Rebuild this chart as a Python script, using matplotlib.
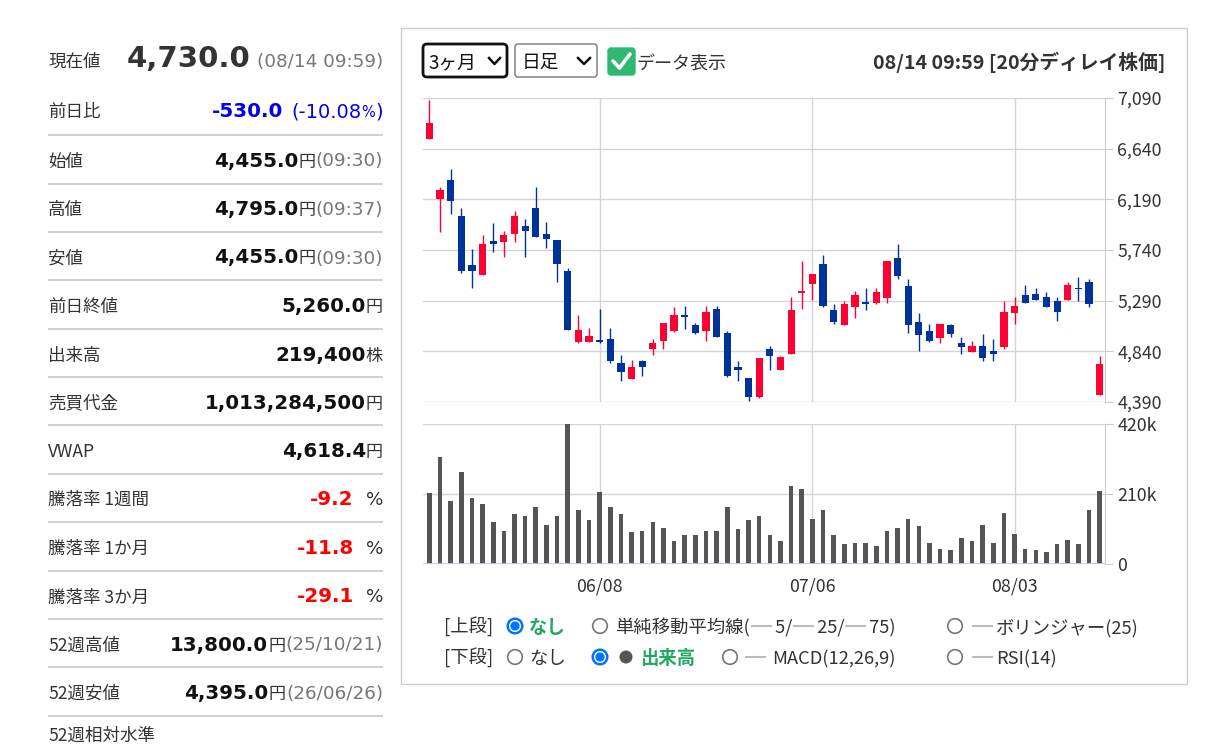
import matplotlib
matplotlib.use('Agg')
import matplotlib.pyplot as plt
from matplotlib.patches import Rectangle, FancyBboxPatch, Circle
from matplotlib.lines import Line2D

plt.rcParams['font.family'] = ['Noto Sans CJK JP', 'DejaVu Sans']

# ---------------- data ----------------
opens  = [6725, 6195, 6365, 6045, 5605, 5515, 5820, 5815, 5885, 5955,
          6110, 5885, 5830, 5550, 4925, 4925, 4945, 4950, 4740, 4595,
          4755, 4860, 4930, 5020, 5155, 5075, 5020, 5220, 5005, 4700,
          4605, 4430, 4860, 4670, 4820, 5355, 5435, 5615, 5205, 5075,
          5230, 5270, 5270, 5310, 5670, 5420, 5100, 5020, 4955, 5070,
          4910, 4835, 4885, 4845, 4875, 5180, 5340, 5350, 5325, 5285,
          5295, 5405, 5455, 4455]
highs  = [7075, 6300, 6460, 6110, 5750, 5875, 5980, 5910, 6085, 6015,
          6300, 5990, 5830, 5580, 5165, 5045, 5215, 5045, 4810, 4765,
          4765, 4950, 5095, 5235, 5245, 5095, 5245, 5245, 5025, 4755,
          4605, 4785, 4885, 4800, 5325, 5645, 5525, 5695, 5260, 5285,
          5375, 5405, 5405, 5645, 5790, 5485, 5180, 5085, 5085, 5085,
          4965, 4935, 4990, 4950, 5285, 5325, 5430, 5405, 5365, 5325,
          5455, 5500, 5485, 4795]
lows   = [6725, 5900, 6060, 5540, 5405, 5515, 5725, 5680, 5815, 5680,
          5855, 5760, 5455, 5030, 4910, 4925, 4910, 4740, 4580, 4595,
          4620, 4810, 4860, 5010, 5035, 4995, 4930, 4965, 4615, 4580,
          4395, 4425, 4675, 4670, 4820, 5220, 5300, 5230, 5085, 5075,
          5140, 5205, 5260, 5270, 5485, 5005, 4845, 4925, 4910, 4970,
          4820, 4835, 4750, 4750, 4860, 5085, 5270, 5295, 5230, 5110,
          5295, 5285, 5230, 4455]
closes = [6870, 6270, 6175, 5550, 5550, 5790, 5795, 5870, 6045, 5910,
          5855, 5835, 5615, 5030, 5030, 4980, 4925, 4750, 4660, 4700,
          4700, 4910, 5095, 5165, 5145, 5005, 5185, 4970, 4620, 4675,
          4430, 4780, 4795, 4790, 5205, 5375, 5525, 5245, 5100, 5260,
          5340, 5260, 5365, 5645, 5510, 5070, 4985, 4935, 5085, 4995,
          4875, 4885, 4780, 4820, 5190, 5245, 5270, 5295, 5230, 5190,
          5430, 5390, 5260, 4730]
volumes = [212500, 320000, 190500, 276000, 198500, 180500, 126500, 100000,
           149500, 144500, 171500, 117500, 144500, 420000, 162500, 131500,
           216500, 171500, 149500, 96000, 100000, 126500, 108500, 69000,
           87000, 87000, 100000, 100000, 171500, 104500, 131500, 144500,
           87000, 69000, 234500, 225500, 135500, 162500, 87000, 60000,
           64000, 64000, 55000, 100000, 108500, 135500, 113500, 64000,
           46000, 42000, 78000, 69000, 117500, 64000, 153500, 91000,
           46000, 42000, 37000, 60000, 73000, 60000, 162500, 219400]

xtick_pos = [16, 36, 55]
xtick_labels = ['06/08', '07/06', '08/03']
price_ticks = [4390, 4840, 5290, 5740, 6190, 6640, 7090]
vol_ticks = [0, 210000, 420000]
vol_tick_labels = ['0', '210k', '420k']

info_labels = ['現在値', '前日比', '始値', '高値', '安値', '前日終値', '出来高',
               '売買代金', 'VWAP', '騰落率 1週間', '騰落率 1か月', '騰落率 3か月',
               '52週高値', '52週安値', '52週相対水準']
current_price = '4,730.0'
current_time = '(08/14 09:59)'
change_value = '-530.0'
change_pct = '-10.08'
price_rows = [('4,455.0', '円', '(09:30)'), ('4,795.0', '円', '(09:37)'),
              ('4,455.0', '円', '(09:30)'), ('5,260.0', '円', None),
              ('219,400', '株', None), ('1,013,284,500', '円', None),
              ('4,618.4', '円', None)]
rate_rows = ['-9.2', '-11.8', '-29.1']
week52_rows = [('13,800.0', '円', '(25/10/21)'), ('4,395.0', '円', '(26/06/26)')]

# ---------------- figure ----------------
W, H = 1206, 745
fig = plt.figure(figsize=(W / 100, H / 100), dpi=100)
ov = fig.add_axes([0, 0, 1, 1])
ov.set_xlim(0, W)
ov.set_ylim(H, 0)
ov.axis('off')
renderer = fig.canvas.get_renderer()

RED = '#ff0033'
BLUE = '#003399'
GRID = '#d4d4d4'
TXT = '#333333'
GRAY = '#777777'
GREEN = '#22a862'
RADIO = '#0075ff'
NUMF = ['DejaVu Sans']


def chain_right(xr, y, pieces):
    x = xr
    for p in reversed(pieces):
        if isinstance(p, (int, float)):
            x -= p
            continue
        s, kw = p
        t = ov.text(x, y, s, ha='right', va='baseline', **kw)
        x -= t.get_window_extent(renderer).width
    return x


def chain_left(xl, y, pieces, dash_y=None):
    x = xl
    for p in pieces:
        if isinstance(p, (int, float)):
            x += p
            continue
        s, kw = p
        if s == '__dash__':
            ov.add_line(Line2D([x, x + 19], [dash_y, dash_y], color='#bbbbbb', lw=1.5))
            x += 19
            continue
        t = ov.text(x, y, s, ha='left', va='baseline', **kw)
        x += t.get_window_extent(renderer).width
    return x


# ---------------- left info panel ----------------
sep_y = [135, 183.5, 232, 280, 329, 377, 425, 474, 522, 571, 619, 667, 716]
ov.hlines(sep_y, 48, 383, color='#c8c8c8', lw=1.2)
baselines = [67, 117, 166.5, 215, 263.5, 312, 360.5, 408.5, 457, 505, 554,
             602.5, 650.5, 699, 741]
LBL = dict(fontsize=12.6, color=TXT)
for lab, by in zip(info_labels, baselines):
    ov.text(48, by, lab, ha='left', va='baseline', **LBL)

VAL = dict(fontsize=14.3, color='#111111', fontweight='bold', family=NUMF)
UNIT = dict(fontsize=12.3, color=TXT)
PAR = dict(fontsize=13.2, color=GRAY, family=NUMF)

chain_right(383, baselines[0], [
    (current_price, dict(fontsize=21, color=TXT, fontweight='bold', family=NUMF)), 6,
    (current_time, PAR)])
chain_right(383, baselines[1], [
    (change_value, dict(fontsize=14.3, color='#0000ee', fontweight='bold', family=NUMF)), 8,
    ('(' + change_pct, dict(fontsize=14, color='#0000ee', family=NUMF)),
    ('%', dict(fontsize=10.5, color='#0000ee', family=NUMF)),
    (')', dict(fontsize=14, color='#0000ee', family=NUMF))])
for (v, u, p), by in zip(price_rows, baselines[2:9]):
    pieces = [(v, VAL), (u, UNIT)]
    if p:
        pieces.append((p, PAR))
    chain_right(383, by, pieces)
for v, by in zip(rate_rows, baselines[9:12]):
    chain_right(383, by, [(v, dict(fontsize=14.3, color='#ff0000', fontweight='bold', family=NUMF)), 12,
                          ('%', dict(fontsize=13.2, color=TXT, family=NUMF))])
for (v, u, p), by in zip(week52_rows, baselines[12:14]):
    chain_right(383, by, [(v, VAL), (u, UNIT), (p, PAR)])

# ---------------- chart panel frame & header ----------------
ov.add_patch(Rectangle((401, 28), 786, 656, fill=False, ec='#cccccc', lw=1))
ov.add_patch(FancyBboxPatch((423, 44), 84, 33, boxstyle='round,pad=0,rounding_size=4',
                            fc='white', ec='#111111', lw=2))
ov.text(428, 68, '3ヶ月', ha='left', va='baseline', fontsize=13.5, color='#111111')
ov.add_line(Line2D([489, 494.5, 500], [58, 64, 58], color='#111111', lw=1.8))
ov.add_patch(FancyBboxPatch((515, 44), 82, 33, boxstyle='round,pad=0,rounding_size=3',
                            fc='white', ec='#767676', lw=1))
ov.text(522, 68, '日足', ha='left', va='baseline', fontsize=13.5, color='#111111')
ov.add_line(Line2D([578, 584, 590], [58, 64, 58], color='#111111', lw=1.8))
ov.add_patch(FancyBboxPatch((608, 48), 27, 27, boxstyle='round,pad=0,rounding_size=3',
                            fc='#2fb874', ec='#2fb874', lw=1))
ov.add_line(Line2D([613, 619.5, 630], [61, 68, 54], color='white', lw=2.6,
                   solid_capstyle='round', solid_joinstyle='round'))
ov.text(636, 68, 'データ表示', ha='left', va='baseline', fontsize=13, color=TXT)
ov.text(1165, 69, '08/14 09:59 [20分ディレイ株価]', ha='right', va='baseline',
        fontsize=14.2, color=TXT, fontweight='bold')

# ---------------- price axes ----------------
def fx(x):
    return x / W


def fy(y):
    return 1 - y / H


axp = fig.add_axes([fx(423), fy(402), fx(1105) - fx(423), fy(98) - fy(402)])
axv = fig.add_axes([fx(423), fy(564), fx(1105) - fx(423), fy(424) - fy(564)])

idx = list(range(len(opens)))
cols = [RED if c >= o else BLUE for o, c in zip(opens, closes)]
bottoms = [min(o, c) for o, c in zip(opens, closes)]
heights = [max(abs(c - o), 14) for o, c in zip(opens, closes)]
axp.vlines(idx, lows, highs, colors=cols, lw=1.0, zorder=3)
axp.bar(idx, heights, bottom=bottoms, width=0.68, color=cols, lw=0, zorder=4)

axv.bar(idx, volumes, width=0.43, color='#555555', lw=0, zorder=3)
axv.axhline(0, color='#c3cbe6', lw=2, zorder=4)

for ax in (axp, axv):
    ax.set_facecolor('none')
    ax.set_xlim(-0.6, len(opens) - 0.5)
    ax.set_xticks(xtick_pos)
    ax.grid(True, color=GRID, lw=1.0, zorder=0)
    for s in ('top', 'left', 'bottom'):
        ax.spines[s].set_visible(False)
    ax.spines['right'].set_color('#cccccc')
    ax.yaxis.tick_right()
    ax.tick_params(axis='y', length=5.8, color='#cccccc', pad=3, labelsize=12.8,
                   labelcolor=TXT)
    ax.set_axisbelow(True)

axp.set_ylim(price_ticks[0], price_ticks[-1])
axp.set_yticks(price_ticks)
axp.set_yticklabels([f'{v:,}' for v in price_ticks])
axp.tick_params(axis='x', length=0, labelbottom=False)

axv.set_ylim(vol_ticks[0], vol_ticks[-1])
axv.set_yticks(vol_ticks)
axv.set_yticklabels(vol_tick_labels)
axv.set_xticklabels(xtick_labels)
axv.tick_params(axis='x', length=0, pad=10, labelsize=12.8, labelcolor=TXT)

# ---------------- bottom options ----------------
def radio(x, y, on):
    if on:
        ov.add_patch(Circle((x, y), 7.3, fc='white', ec=RADIO, lw=1.8))
        ov.add_patch(Circle((x, y), 4.6, fc=RADIO, ec='none'))
    else:
        ov.add_patch(Circle((x, y), 7.3, fc='white', ec='#767676', lw=1.2))


OPT = dict(fontsize=13.2, color=TXT)
GB = dict(fontsize=13.2, color=GREEN, fontweight='bold')
r1, r2 = 633, 664
c1, c2 = 626, 657
ov.text(444, r1, '[上段]', ha='left', va='baseline', **OPT)
radio(515, c1, True)
ov.text(529, r1, 'なし', ha='left', va='baseline', **GB)
radio(600, c1, False)
chain_left(615, r1, [('単純移動平均線(', OPT), 2, ('__dash__', None), (' 5/', OPT), 2,
                     ('__dash__', None), (' 25/', OPT), 1, ('__dash__', None), (' 75)', OPT)],
           dash_y=c1)
radio(955, c1, False)
ov.add_line(Line2D([973, 992], [c1, c1], color='#bbbbbb', lw=1.5))
ov.text(996, r1, 'ボリンジャー(25)', ha='left', va='baseline', **OPT)

ov.text(444, r2, '[下段]', ha='left', va='baseline', **OPT)
radio(515, c2, False)
ov.text(529, r2, 'なし', ha='left', va='baseline', **OPT)
radio(600, c2, True)
ov.add_patch(Circle((626, c2), 6.5, fc='#555555', ec='none'))
ov.text(640, r2, '出来高', ha='left', va='baseline', **GB)
radio(730, c2, False)
ov.add_line(Line2D([746, 765], [c2, c2], color='#bbbbbb', lw=1.5))
ov.text(772, r2, 'MACD(12,26,9)', ha='left', va='baseline', **OPT)
radio(955, c2, False)
ov.add_line(Line2D([973, 992], [c2, c2], color='#bbbbbb', lw=1.5))
ov.text(996, r2, 'RSI(14)', ha='left', va='baseline', **OPT)

fig.savefig('out.png', dpi=100)
